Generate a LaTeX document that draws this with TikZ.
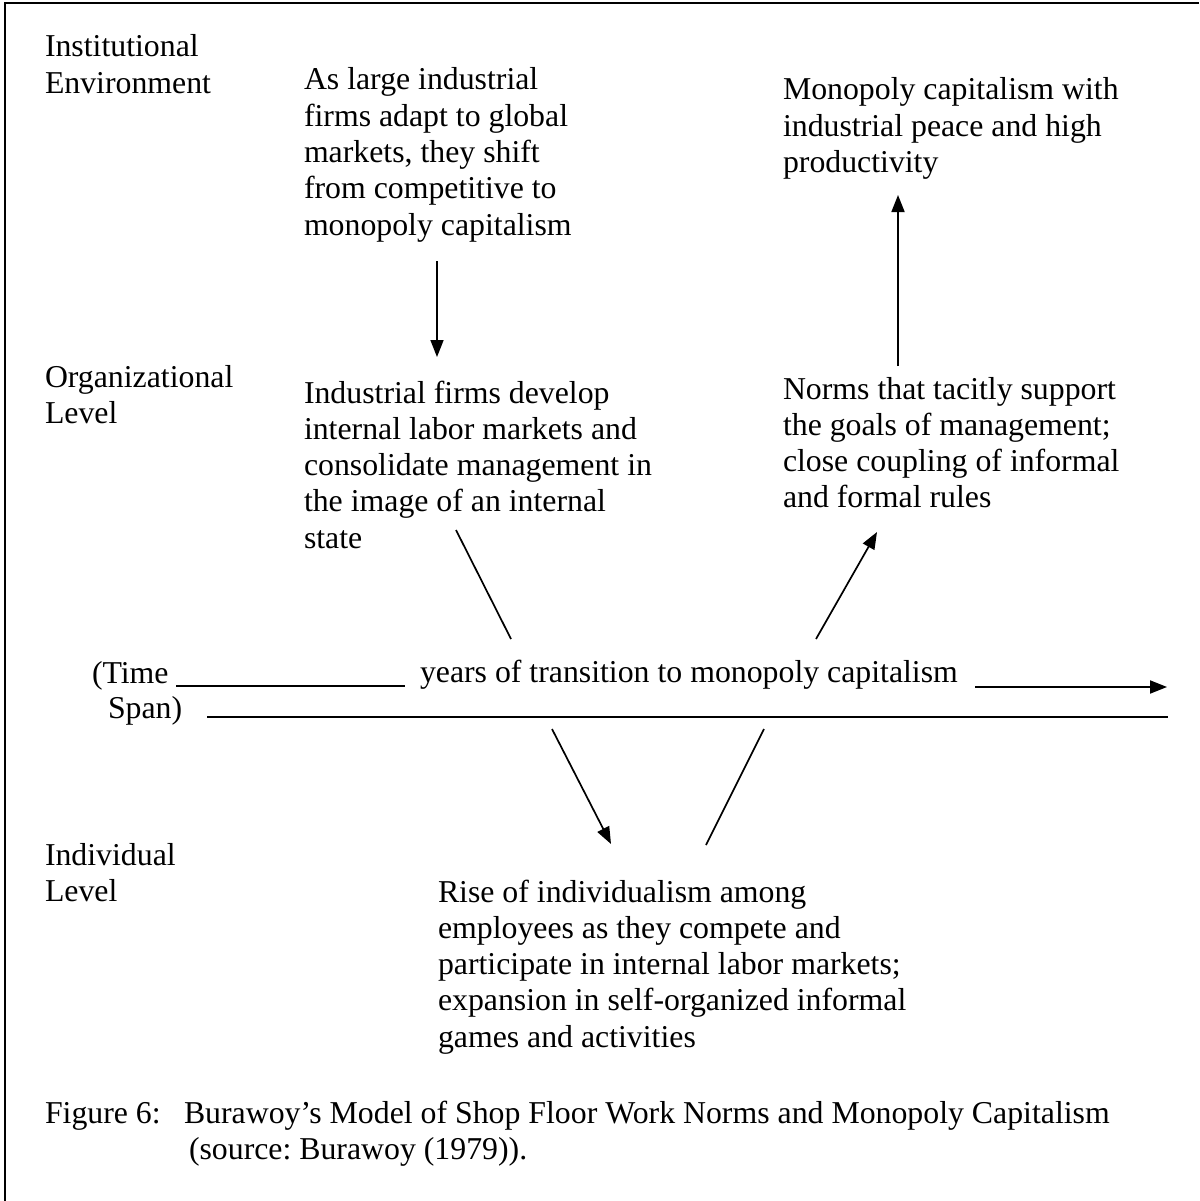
\documentclass[tikz,border=0pt]{standalone}
\usepackage{fontspec}
\setmainfont{Liberation Serif}
\usetikzlibrary{arrows.meta}
\newcommand{\mystrut}{\rule{0pt}{26pt}}
\tikzset{
  txt/.style={anchor=north west, inner sep=0pt, outer sep=0pt, align=left,
              font=\fontsize{31.8}{36.3}\selectfont},
  conn/.style={line width=1.7pt},
  arr/.style={line width=1.7pt, -{Triangle[length=17pt,width=13pt]}},
  tline/.style={line width=2pt},
  frame/.style={line width=2.5pt}
}
\begin{document}
\frenchspacing
\begin{tikzpicture}[x=1pt,y=-1pt]
\useasboundingbox (0,0) rectangle (1199,1201);
% frame
\coordinate (fbl) at (5,1201);
\coordinate (ftl) at (5,3);
\coordinate (ftr) at (1199,3);
\draw[frame] (fbl) -- (ftl) -- (ftr);

% level labels
\node[txt] (inst) at (45,31) {\mystrut Institutional\\Environment};
\node[txt] (orgl) at (45,361) {\mystrut Organizational\\Level};
\node[txt] (indl) at (45,839) {\mystrut Individual\\Level};

% institutional level
\node[txt] (t1) at (304,64) {\mystrut As large industrial\\firms adapt to global\\markets, they shift\\from competitive to\\monopoly capitalism};
\node[txt] (t2) at (783,74) {\mystrut Monopoly capitalism with\\industrial peace and high\\productivity};

% organizational level
\node[txt] (m1) at (304,377) {\mystrut Industrial firms develop\\internal labor markets and\\consolidate management in\\the image of an internal\\state};
\node[txt] (m2) at (783,373) {\mystrut Norms that tacitly support\\the goals of management;\\close coupling of informal\\and formal rules};

% time span
\node[txt] (time) at (92,657) {\mystrut (Time};
\node[txt] (span) at (108,692) {\mystrut Span)};
\node[txt] (years) at (420,656) {\mystrut years of transition to monopoly capitalism};

% individual level
\node[txt] (b1) at (438,876) {\mystrut Rise of individualism among\\employees as they compete and\\participate in internal labor markets;\\expansion in self-organized informal\\games and activities};

% caption
\node[txt] (fig) at (45,1097) {\mystrut Figure 6:};
\node[txt] (capt) at (184,1097) {\mystrut Burawoy’s Model of Shop Floor Work Norms and Monopoly Capitalism\\\hspace{5pt}(source: Burawoy (1979)).};

% connector end points
\coordinate (t1s) at (437,261);
\coordinate (m1e) at (437,357);
\coordinate (m2s) at (898,366);
\coordinate (t2e) at (898,195);
\coordinate (m1s) at (456,530);
\coordinate (tl1) at (511,639);
\coordinate (tl2) at (816,639);
\coordinate (m2e) at (877,532);
\coordinate (tl3) at (552,729);
\coordinate (b1e) at (611,844);
\coordinate (tl4) at (764,729);
\coordinate (b1s) at (706,845);
\coordinate (u1a) at (176,686);
\coordinate (u1b) at (405,686);
\coordinate (u2a) at (975,687);
\coordinate (u2b) at (1167,687);
\coordinate (u3a) at (207,717);
\coordinate (u3b) at (1168,717);

% connectors
\draw[arr] (t1s) -- (m1e);
\draw[arr] (m2s) -- (t2e);
\draw[conn] (m1s) -- (tl1);
\draw[arr] (tl2) -- (m2e);
\draw[arr] (tl3) -- (b1e);
\draw[conn] (tl4) -- (b1s);

% time lines
\draw[tline] (u1a) -- (u1b);
\draw[tline, -{Triangle[length=17pt,width=13pt]}] (u2a) -- (u2b);
\draw[tline] (u3a) -- (u3b);
\end{tikzpicture}
\end{document}
